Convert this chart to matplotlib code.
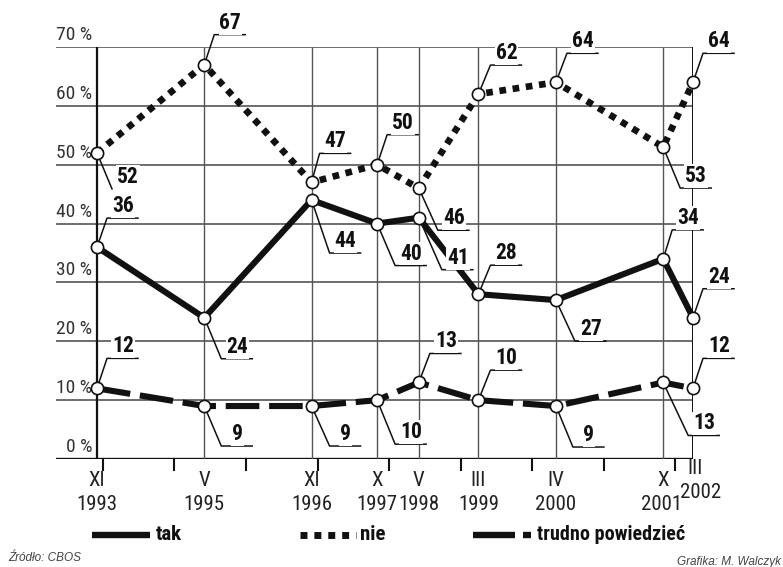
import numpy as np
import matplotlib.pyplot as plt

# survey dates (month, year) and answers in %
months = [11, 5, 11, 10, 5, 3, 4, 10, 3]
years = [1993, 1995, 1996, 1997, 1998, 1999, 2000, 2001, 2002]
roman = ["XI", "V", "XI", "X", "V", "III", "IV", "X", "III"]

tak = [36, 24, 44, 40, 41, 28, 27, 34, 24]
nie = [52, 67, 47, 50, 46, 62, 64, 53, 64]
trudno = [12, 9, 9, 10, 13, 10, 9, 13, 12]

y_ticks = [0, 10, 20, 30, 40, 50, 60, 70]
year_ticks = list(range(1994, 2003))

# label leader offsets in image pixels (dx right, dy down), per series
off_nie = [(15, 36), (10, -30), (8, -29), (10, -30), (19, 42), (12, -29), (11, -29), (17, 41), (10, -29)]
off_tak = [(10, -29), (17, 41), (18, 53), (18, 42), (23, 52), (12, -29), (19, 41), (9, -29), (10, -29)]
off_tru = [(10, -30), (17, 40), (18, 40), (18, 44), (11, -29), (12, -30), (17, 41), (25, 53), (10, -30)]

NARROW = ["Roboto Condensed", "DejaVu Sans"]
INK = "#111111"
GRID = "#555555"

t = np.array(years) + np.array(months) / 12.0

fig = plt.figure(figsize=(7.83, 5.67), dpi=100)
W, H = 783, 567
# axes box in image pixels: x 56..693, y 47..459
ax = fig.add_axes([56 / W, (H - 459) / H, (693 - 56) / W, (459 - 47) / H])
ax.set_xlim(t[0] - 41 / 71.5, t[-1])
ax.set_ylim(0, 70)
ax.axis("off")


def to_data(px, py):
    # image pixel -> data coords
    return ax.transData.inverted().transform((px, H - py))


def to_img(x, y):
    dx, dy = ax.transData.transform((x, y))
    return dx, H - dy


# grid
for v in y_ticks:
    ax.axhline(v, color=INK if v == 0 else GRID, lw=1.7 if v == 0 else 1.2, zorder=1)
for i, x in enumerate(t):
    lw = 1.6 if i == 0 else (1.4 if i == len(t) - 1 else 1.0)
    ax.vlines(x, 0, 70, color=INK if i in (0, len(t) - 1) else GRID, lw=lw, zorder=1)

# year ticks under the axis
for yr in year_ticks:
    ax.plot([yr, yr], [0, to_data(0, 470)[1]], color=INK, lw=1.5, clip_on=False, zorder=1)

# y labels
for v in y_ticks:
    x0, _ = to_data(92, 0)
    _, yb = to_data(0, to_img(0, v)[1] - 3)
    ax.text(x0, yb, f"{v} %", ha="right", va="bottom", fontsize=14,
            family=NARROW, color="#333333")

# x labels
for i, x in enumerate(t):
    px, _ = to_img(x, 0)
    if i == len(t) - 1:
        ax.text(*to_data(px + 2, 468), roman[i], ha="center", va="center", fontsize=15, family=NARROW, color="#222222")
        ax.text(*to_data(px + 8, 493), str(years[i]), ha="center", va="center", fontsize=15, family=NARROW, color="#222222")
    else:
        shift = -2 if i == len(t) - 2 else 0
        ax.text(*to_data(px, 481), roman[i], ha="center", va="center", fontsize=15, family=NARROW, color="#222222")
        ax.text(*to_data(px + shift, 505), str(years[i]), ha="center", va="center", fontsize=15, family=NARROW, color="#222222")

# series
ax.plot(t, tak, color=INK, lw=4.4, solid_capstyle="butt", zorder=3, clip_on=False)
ax.plot(t, nie, color=INK, lw=4.8, dashes=(1, 1), dash_capstyle="butt", zorder=3, clip_on=False)
ax.plot(t, trudno, color=INK, lw=4.4, dashes=(5.5, 1.6), dash_capstyle="butt", zorder=3, clip_on=False)
for s in (tak, nie, trudno):
    ax.plot(t, s, "o", ms=8.8, mfc="white", mec=INK, mew=1.2, zorder=4, clip_on=False)


def label(series, offs, underline_skip=()):
    for i, (x, v) in enumerate(zip(t, series)):
        mx, my = to_img(x, v)
        dx, dy = offs[i]
        ex, ey = mx + dx, my + dy
        # start leader at the marker edge
        r = 6.0
        d = np.hypot(dx, dy)
        sx, sy = mx + dx / d * r, my + dy / d * r
        pts = [(sx, sy), (ex, ey)]
        if i not in underline_skip:
            pts.append((ex + 31, ey))
        xs, ys = zip(*[to_data(a, b) for a, b in pts])
        ax.plot(xs, ys, color=INK, lw=1.1, zorder=2, clip_on=False)
        ax.text(*to_data(ex + 16, ey - 1), str(v), ha="center", va="bottom",
                fontsize=15.5, fontweight="bold", family=NARROW, color=INK, zorder=5,
                bbox=dict(facecolor="white", edgecolor="none", pad=0.6))


label(nie, off_nie, underline_skip=(0,))
label(tak, off_tak)
label(trudno, off_tru)

# legend
ly = 535
ax.plot(*zip(*[to_data(92, ly), to_data(150, ly)]), color=INK, lw=4.6, solid_capstyle="butt", clip_on=False)
ax.text(*to_data(156, ly), "tak", ha="left", va="center", fontsize=15, fontweight="bold", family=NARROW, color=INK)
ax.plot(*zip(*[to_data(300, ly), to_data(356, ly)]), color=INK, lw=5, dashes=(1, 1), dash_capstyle="butt", clip_on=False)
ax.text(*to_data(360, ly), "nie", ha="left", va="center", fontsize=15, fontweight="bold", family=NARROW, color=INK)
ax.plot(*zip(*[to_data(473, ly), to_data(515, ly)]), color=INK, lw=4.6, solid_capstyle="butt", clip_on=False)
ax.plot(*zip(*[to_data(523, ly), to_data(531, ly)]), color=INK, lw=4.6, solid_capstyle="butt", clip_on=False)
ax.text(*to_data(537, ly), "trudno powiedzieć", ha="left", va="center", fontsize=14.5, fontweight="bold",
        family=NARROW, color=INK)

# footer
fig.text(8 / W, 1 - 558 / H, "Źródło: CBOS", ha="left", va="center", fontsize=8.5, style="italic",
         family=["Liberation Sans", "DejaVu Sans"], color="#444444")
fig.text(781 / W, 1 - 562 / H, "Grafika: M. Walczyk", ha="right", va="center", fontsize=8.5, style="italic",
         family=["Liberation Sans", "DejaVu Sans"], color="#444444")

fig.savefig("out.png", dpi=100)
